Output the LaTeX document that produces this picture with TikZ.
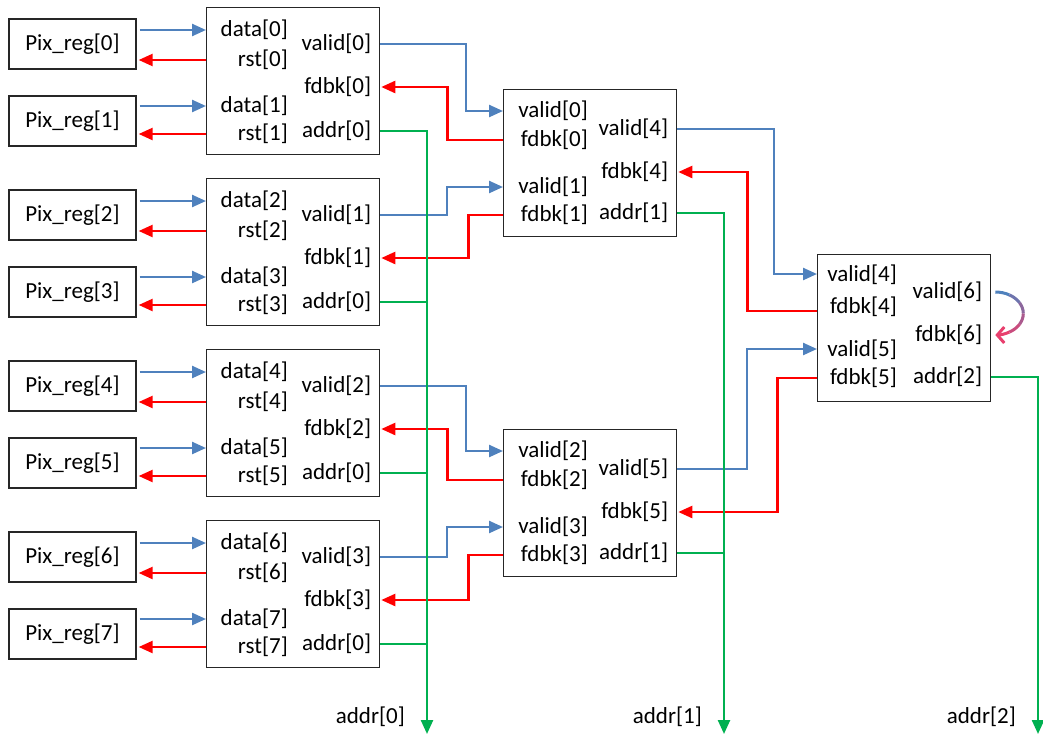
\documentclass[tikz,border=0pt]{standalone}
\usepackage{fontspec}
\setmainfont{Carlito}
\usetikzlibrary{arrows.meta,calc}
\definecolor{sigblue}{RGB}{79,129,189}
\definecolor{sigred}{RGB}{255,0,0}
\definecolor{siggreen}{RGB}{0,176,80}
\definecolor{fbpink}{RGB}{232,64,110}

\tikzset{
  regbox/.style={draw=black!85,line width=1.3pt,minimum width=127pt,minimum height=50pt,inner sep=0pt},
  blkbox/.style={draw=black!85,line width=1.3pt,minimum width=173pt,minimum height=147pt,inner sep=0pt,anchor=north west},
  port/.style={anchor=east,inner sep=0pt},
  tip/.style={-{Triangle[length=14pt,width=12pt]}},
  dataline/.style={sigblue,line width=2.4pt,tip},
  rstline/.style={sigred,line width=2.4pt,tip},
  addrline/.style={siggreen,line width=2.4pt},
}

\begin{document}
\begin{tikzpicture}[x=1pt,y=-1pt,font=\fontsize{23}{27}\selectfont]
  \useasboundingbox (0,0) rectangle (1043,736);

  % first stage: pixel registers and their blocks
  \foreach \i in {0,...,3}{
    \pgfmathtruncatemacro\a{2*\i}
    \pgfmathtruncatemacro\b{2*\i+1}
    \node[blkbox] (one\i) at (206,7+171*\i) {};
    \node[regbox] (pix\a) at (72.5,44+171*\i) {Pix\_reg[\a]};
    \node[regbox] (pix\b) at (72.5,121+171*\i) {Pix\_reg[\b]};
    \node[port] (one\i-d\a) at ($(one\i.north west)+(82,23)$) {data[\a]};
    \node[port] (one\i-r\a) at ($(one\i.north west)+(82,53)$) {rst[\a]};
    \node[port] (one\i-d\b) at ($(one\i.north west)+(82,99)$) {data[\b]};
    \node[port] (one\i-r\b) at ($(one\i.north west)+(82,127)$) {rst[\b]};
    \node[port] (one\i-v) at ($(one\i.north east)+(-9,37)$) {valid[\i]};
    \node[port] (one\i-f) at ($(one\i.north east)+(-9,80)$) {fdbk[\i]};
    \node[port] (one\i-o) at ($(one\i.north east)+(-9,124)$) {addr[0]};
    \draw[dataline] ([xshift=3pt]pix\a.east |- one\i-d\a) -- (one\i.west |- one\i-d\a);
    \draw[rstline] (one\i.west |- one\i-r\a) -- ([xshift=2pt]pix\a.east |- one\i-r\a);
    \draw[dataline] ([xshift=3pt]pix\b.east |- one\i-d\b) -- (one\i.west |- one\i-d\b);
    \draw[rstline] (one\i.west |- one\i-r\b) -- ([xshift=2pt]pix\b.east |- one\i-r\b);
  }

  % second stage
  \foreach \j in {0,1}{
    \pgfmathtruncatemacro\a{2*\j}
    \pgfmathtruncatemacro\b{2*\j+1}
    \pgfmathtruncatemacro\c{4+\j}
    \node[blkbox] (two\j) at (503,89+340*\j) {};
    \node[port] (two\j-va) at ($(two\j.north west)+(85,22)$) {valid[\a]};
    \node[port] (two\j-fa) at ($(two\j.north west)+(85,51)$) {fdbk[\a]};
    \node[port] (two\j-vb) at ($(two\j.north west)+(85,98)$) {valid[\b]};
    \node[port] (two\j-fb) at ($(two\j.north west)+(85,126)$) {fdbk[\b]};
    \node[port] (two\j-v) at ($(two\j.north east)+(-9,40)$) {valid[\c]};
    \node[port] (two\j-f) at ($(two\j.north east)+(-9,83)$) {fdbk[\c]};
    \node[port] (two\j-o) at ($(two\j.north east)+(-9,124)$) {addr[1]};
    \draw[dataline] ($(one\a.north east)+(0,37)$) -| ($(two\j.north west)+(-37,22)$) -- ($(two\j.north west)+(0,22)$);
    \draw[rstline] ($(two\j.north west)+(0,51)$) -| ($(one\a.north east)+(67,80)$) -- ($(one\a.north east)+(1,80)$);
    \draw[dataline] ($(one\b.north east)+(0,37)$) -| ($(two\j.north west)+(-56,98)$) -- ($(two\j.north west)+(0,98)$);
    \draw[rstline] ($(two\j.north west)+(0,126)$) -| ($(one\b.north east)+(88,80)$) -- ($(one\b.north east)+(1,80)$);
  }

  % third stage
  \node[blkbox] (three) at (817,254) {};
  \node[port] (three-va) at ($(three.north west)+(80,21)$) {valid[4]};
  \node[port] (three-fa) at ($(three.north west)+(80,53)$) {fdbk[4]};
  \node[port] (three-vb) at ($(three.north west)+(80,96)$) {valid[5]};
  \node[port] (three-fb) at ($(three.north west)+(80,124)$) {fdbk[5]};
  \node[port] (three-v) at ($(three.north east)+(-9,38)$) {valid[6]};
  \node[port] (three-f) at ($(three.north east)+(-9,81)$) {fdbk[6]};
  \node[port] (three-o) at ($(three.north east)+(-9,123)$) {addr[2]};
  \draw[dataline] ($(two0.north east)+(0,40)$) -| ($(three.north west)+(-43,20)$) -- ($(three.north west)+(0,20)$);
  \draw[rstline] ($(three.north west)+(0,57)$) -| ($(two0.north east)+(70,83)$) -- ($(two0.north east)+(1,83)$);
  \draw[dataline] ($(two1.north east)+(0,40)$) -| ($(three.north west)+(-70,95)$) -- ($(three.north west)+(0,95)$);
  \draw[rstline] ($(three.north west)+(0,124)$) -| ($(two1.north east)+(100,83)$) -- ($(two1.north east)+(1,83)$);

  % valid[6] turned back into fdbk[6]
  \coordinate (turn) at ($(three.north east)+(4,59.5)$);
  \foreach \k in {0,...,5}{
    \pgfmathtruncatemacro\w{100-20*\k}
    \pgfmathsetmacro\t{-90+30*\k}
    \ifnum\k=5
      \draw[sigblue!\w!fbpink,line width=3pt,-{Straight Barb[length=7pt,width=16pt]}] ($(turn)+(\t:28 and 21.5)$) arc[start angle=\t,delta angle=30,x radius=28,y radius=21.5];
    \else
      \draw[sigblue!\w!fbpink,line width=3pt] ($(turn)+(\t:28 and 21.5)$) arc[start angle=\t,delta angle=30,x radius=28,y radius=21.5];
    \fi
  }

  % address buses
  \coordinate (bus0) at (427,734);
  \coordinate (bus1) at (724,734);
  \coordinate (bus2) at (1038,734);
  \draw[addrline,tip] ($(one0.north east)+(0,124)$) -| (bus0);
  \foreach \i in {1,2,3}
    \draw[addrline] ($(one\i.north east)+(0,124)$) -- ($(one\i.north east)+(48,124)$);
  \draw[addrline,tip] ($(two0.north east)+(0,124)$) -| (bus1);
  \draw[addrline] ($(two1.north east)+(0,124)$) -- ($(two1.north east)+(48,124)$);
  \draw[addrline,tip] ($(three.north east)+(0,123)$) -| (bus2);
  \node[anchor=east,inner sep=0pt] (lbl0) at ($(bus0)+(-22,-17)$) {addr[0]};
  \node[anchor=east,inner sep=0pt] (lbl1) at ($(bus1)+(-22,-17)$) {addr[1]};
  \node[anchor=east,inner sep=0pt] (lbl2) at ($(bus2)+(-22,-17)$) {addr[2]};
\end{tikzpicture}
\end{document}
